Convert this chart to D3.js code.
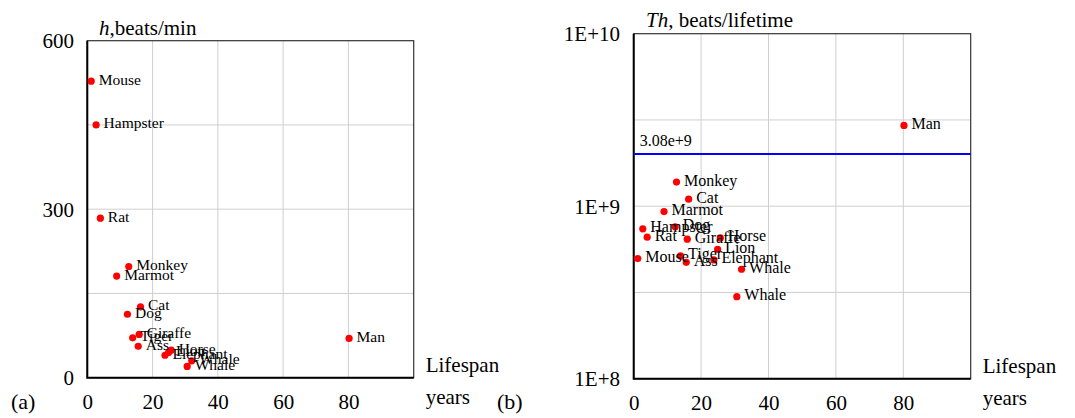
<!DOCTYPE html>
<html>
<head>
<meta charset="utf-8">
<script src="https://cdn.jsdelivr.net/npm/d3@7"></script>
<style>
  body { margin: 0; background: #fff; }
</style>
</head>
<body>
<div id="container"></div>
<script>
// data
var animals = ["Mouse", "Hampster", "Rat", "Monkey", "Marmot", "Cat", "Dog", "Giraffe", "Tiger", "Ass",
               "Horse", "Lion", "Elephant", "Whale", "Whale", "Man"];
var lifespan = [1.2, 2.7, 4.0, 12.7, 9.0, 16.3, 12.3, 15.9, 13.9, 15.6, 25.7, 24.9, 23.8, 32.0, 30.6, 80.2];
var heartRate = [528, 450, 284, 198, 181, 126, 113, 77, 71, 56, 49, 45, 40, 30, 20, 70];
var beatsLifetime = [4.97e8, 7.39e8, 6.61e8, 1.38e9, 9.31e8, 1.098e9, 7.59e8, 6.44e8, 5.15e8, 4.73e8,
                     6.55e8, 5.63e8, 4.88e8, 4.31e8, 2.99e8, 2.94e9];
var xTicks = [0, 20, 40, 60, 80];
var hTicks = [0, 300, 600];
var hGrid = [150, 300, 450];
var thTicks = [1e8, 1e9, 1e10];
var thTickLabels = ["1E+8", "1E+9", "1E+10"];
var thGrid = [Math.pow(10, 8.5), 1e9, Math.pow(10, 9.5)];
var refLine = {value: 2.01e9, label: "3.08e+9"};

var W = 1075, H = 418;
var FONT = '"Liberation Serif", "Times New Roman", Times, serif';

var svg = d3.select('#container').append('svg')
    .attr('width', W)
    .attr('height', H)
    .attr('font-family', FONT);

function drawPanel(opt) {
    var g = svg.append('g');
    var x = d3.scaleLinear().domain([0, 100]).range([opt.left, opt.right]);
    var y = opt.y;
    var top = y.range()[1], bottom = y.range()[0];

    // grid
    g.selectAll('.vgrid').data(xTicks.filter(d => d > 0)).enter().append('line')
        .attr('x1', d => x(d)).attr('x2', d => x(d))
        .attr('y1', top).attr('y2', bottom)
        .attr('stroke', '#cfcfcf').attr('stroke-width', 1);
    g.selectAll('.hgrid').data(opt.grid).enter().append('line')
        .attr('x1', opt.left).attr('x2', opt.right)
        .attr('y1', d => y(d)).attr('y2', d => y(d))
        .attr('stroke', '#cfcfcf').attr('stroke-width', 1);

    // frame
    g.append('rect')
        .attr('x', opt.left).attr('y', top)
        .attr('width', opt.right - opt.left).attr('height', bottom - top)
        .attr('fill', 'none').attr('stroke', '#333').attr('stroke-width', 1.2);
    g.append('path')
        .attr('d', `M${opt.left},${top}V${bottom}H${opt.right}`)
        .attr('fill', 'none').attr('stroke', '#000').attr('stroke-width', 2);

    // x axis labels
    var xAxis = d3.axisBottom(x).tickValues(xTicks).tickSize(0).tickPadding(0);
    g.append('g')
        .attr('transform', `translate(0, ${bottom})`)
        .call(xAxis)
        .attr('font-family', FONT).attr('font-size', 21)
        .call(a => a.select('.domain').remove())
        .selectAll('text')
            .attr('dy', null).attr('y', 31).attr('fill', '#000');

    // y axis labels
    var yAxis = d3.axisLeft(y).tickValues(opt.ticks).tickSize(0).tickPadding(0)
        .tickFormat((d, i) => opt.tickLabels[i]);
    g.append('g')
        .attr('transform', `translate(${opt.tickRight}, 0)`)
        .call(yAxis)
        .attr('font-family', FONT).attr('font-size', 21)
        .call(a => a.select('.domain').remove())
        .selectAll('text')
            .attr('dy', null).attr('x', 0).attr('y', 7).attr('fill', '#000');

    // axis titles
    var t = g.append('text')
        .attr('x', opt.titleX).attr('y', opt.titleY)
        .attr('font-size', 21);
    t.append('tspan').attr('font-style', 'italic').text(opt.titleItalic);
    t.append('tspan').text(opt.titleRest);

    g.append('text').attr('x', opt.right + 12).attr('y', bottom - 6)
        .attr('font-size', 21).text('Lifespan');
    g.append('text').attr('x', opt.right + 12).attr('y', bottom + 26)
        .attr('font-size', 21).text('years');

    g.append('text').attr('x', opt.panelX).attr('y', 409)
        .attr('font-size', 22).text(opt.panel);

    if (opt.ref) {
        g.append('line')
            .attr('x1', opt.left).attr('x2', opt.right)
            .attr('y1', y(opt.ref.value)).attr('y2', y(opt.ref.value))
            .attr('stroke', '#0000ff').attr('stroke-width', 2);
        g.append('text')
            .attr('x', opt.left + 6).attr('y', y(opt.ref.value) - 8)
            .attr('font-size', 16).text(opt.ref.label);
    }

    // points and labels
    var pts = animals.map((name, i) => ({name: name, x: lifespan[i], y: opt.values[i]}));
    g.selectAll('.pt').data(pts).enter().append('circle')
        .attr('cx', d => x(d.x)).attr('cy', d => y(d.y))
        .attr('r', 3.6).attr('fill', '#ff0000');
    g.selectAll('.lbl').data(pts).enter().append('text')
        .attr('x', d => x(d.x) + 7.5).attr('y', d => y(d.y) + 3.5)
        .attr('font-size', opt.labelSize).text(d => d.name);
}

drawPanel({
    left: 87.3, right: 413.7,
    y: d3.scaleLinear().domain([0, 600]).range([377.7, 40.7]),
    ticks: hTicks, tickLabels: hTicks.map(String), grid: hGrid,
    tickRight: 74,
    values: heartRate,
    titleX: 99, titleY: 35, titleItalic: 'h', titleRest: ',beats/min',
    panel: '(a)', panelX: 11,
    labelSize: 15.5
});

drawPanel({
    left: 633.7, right: 970.7,
    y: d3.scaleLog().domain([1e8, 1e10]).range([378.7, 33.7]),
    ticks: thTicks, tickLabels: thTickLabels, grid: thGrid,
    tickRight: 620,
    values: beatsLifetime,
    titleX: 646, titleY: 27, titleItalic: 'Th', titleRest: ', beats/lifetime',
    panel: '(b)', panelX: 497,
    labelSize: 16,
    ref: refLine
});
</script>
</body>
</html>
